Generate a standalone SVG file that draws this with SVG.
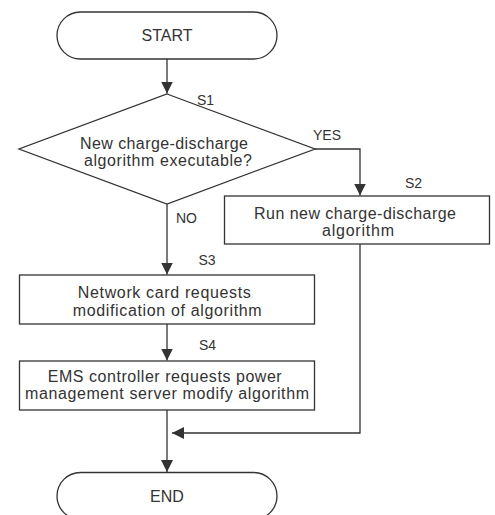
<svg xmlns="http://www.w3.org/2000/svg" width="495" height="515" viewBox="0 0 495 515">
<defs>
<style>
.shape{fill:#fff;stroke:#333;stroke-width:1.3}
.conn{fill:none;stroke:#333;stroke-width:1.3}
.t{font-family:"Liberation Sans",Arial,sans-serif;font-size:16px;fill:#333;text-anchor:middle}
.lbl{font-family:"Liberation Sans",Arial,sans-serif;font-size:14px;fill:#333}
</style>
<marker id="ah" markerUnits="userSpaceOnUse" markerWidth="12" markerHeight="12" viewBox="0 0 12 12" refX="12" refY="6" orient="auto">
<path d="M0,0 L12,6 L0,12 Z" fill="#333"/>
</marker>
</defs>
<rect width="495" height="515" fill="#fff"/>
<g id="connectors">
<line class="conn" x1="167" y1="59" x2="167" y2="93.5" marker-end="url(#ah)"/>
<polyline class="conn" points="315,149 360,149 360,195.5" marker-end="url(#ah)"/>
<line class="conn" x1="167" y1="204" x2="167" y2="274.5" marker-end="url(#ah)"/>
<line class="conn" x1="167" y1="324" x2="167" y2="360.5" marker-end="url(#ah)"/>
<line class="conn" x1="167" y1="410" x2="167" y2="472" marker-end="url(#ah)"/>
<polyline class="conn" points="360,244 360,433 172,433" marker-end="url(#ah)"/>
<text class="lbl" x="313" y="140">YES</text>
<text class="lbl" x="176" y="223">NO</text>
</g>
<g id="start">
<rect class="shape" x="57" y="12" width="220" height="47" rx="23.5" ry="23.5"/>
<text class="t" x="167" y="41.3">START</text>
</g>
<g id="s1">
<polygon class="shape" points="167,94 315,149 167,204 19,149"/>
<text class="t" x="164" y="149" textLength="168" lengthAdjust="spacing">New charge-discharge</text>
<text class="t" x="168" y="166" textLength="168" lengthAdjust="spacing">algorithm executable?</text>
<text class="lbl" x="197" y="104.5">S1</text>
</g>
<g id="s2">
<rect class="shape" x="224.5" y="196" width="265" height="48"/>
<text class="t" x="355" y="219.3" textLength="202" lengthAdjust="spacing">Run new charge-discharge</text>
<text class="t" x="358" y="236" textLength="72" lengthAdjust="spacing">algorithm</text>
<text class="lbl" x="405" y="188">S2</text>
</g>
<g id="s3">
<rect class="shape" x="19.5" y="275" width="295" height="49"/>
<text class="t" x="164.3" y="297.5" textLength="173" lengthAdjust="spacing">Network card requests</text>
<text class="t" x="167.2" y="315.5" textLength="189" lengthAdjust="spacing">modification of algorithm</text>
<text class="lbl" x="198.5" y="265">S3</text>
</g>
<g id="s4">
<rect class="shape" x="19.5" y="361" width="295" height="49"/>
<text class="t" x="164.7" y="381.5" textLength="234" lengthAdjust="spacing">EMS controller requests power</text>
<text class="t" x="167" y="399" textLength="284" lengthAdjust="spacing">management server modify algorithm</text>
<text class="lbl" x="199" y="350">S4</text>
</g>
<g id="end">
<rect class="shape" x="57" y="472.5" width="220" height="47" rx="23.5" ry="23.5"/>
<text class="t" x="167" y="502">END</text>
</g>
</svg>
